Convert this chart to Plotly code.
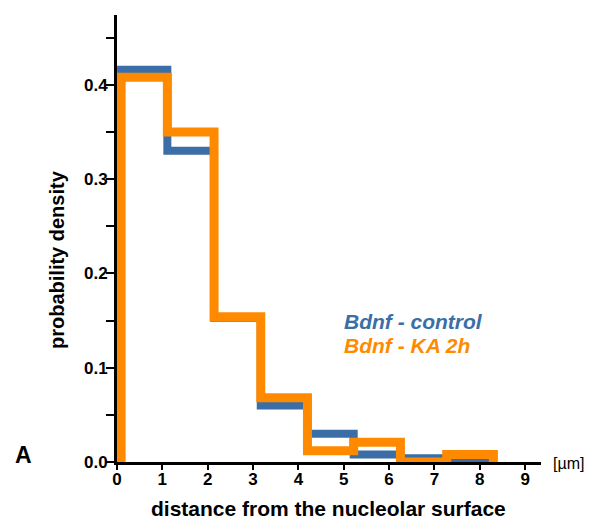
import plotly.graph_objects as go

# Data
bin_edges = [0.09, 1.11, 2.14, 3.17, 4.20, 5.22, 6.25, 7.27, 8.30]
control = [0.416, 0.330, 0.153, 0.060, 0.030, 0.008, 0.004, 0.0]
ka_2h = [0.408, 0.350, 0.154, 0.068, 0.012, 0.021, 0.0, 0.008]
x_ticks = [0, 1, 2, 3, 4, 5, 6, 7, 8, 9]
y_ticks = [0.0, 0.1, 0.2, 0.3, 0.4]

BLUE = "#3b6ea6"
ORANGE = "#ff8a00"

W, H = 597, 520
ML, MR, MT, MB = 117, 56, 15, 58


def step_xy(edges, vals):
    return [edges[0]] + list(edges), [0] + list(vals) + [0]


fig = go.Figure()
for vals, col, w in [(control, BLUE, 8), (ka_2h, ORANGE, 9)]:
    sx, sy = step_xy(bin_edges, vals)
    fig.add_trace(go.Scatter(x=sx, y=sy, mode="lines", line_shape="hv",
                             line=dict(color=col, width=w), showlegend=False,
                             hoverinfo="skip"))

font_b = dict(family="Liberation Sans, Arial", color="black")

fig.update_layout(
    width=W, height=H,
    margin=dict(l=ML, r=MR, t=MT, b=MB, autoexpand=False),
    paper_bgcolor="white", plot_bgcolor="white",
    xaxis=dict(range=[0, 9.35], showgrid=False, zeroline=False,
               showline=True, linecolor="black", linewidth=3,
               ticks="outside", ticklen=5, tickwidth=2, tickcolor="black",
               tickvals=x_ticks, ticktext=[f"<b>{v}</b>" for v in x_ticks],
               tickfont=dict(size=17, **font_b), ticklabelstandoff=-5),
    yaxis=dict(range=[0, 0.474], showgrid=False, zeroline=False,
               showline=True, linecolor="black", linewidth=3,
               ticks="outside", ticklen=8, tickwidth=2, tickcolor="black",
               tickvals=y_ticks, ticktext=[f"<b>{v:.1f}</b>" for v in y_ticks],
               tickfont=dict(size=17, **font_b), ticklabelstandoff=-5,
               minor=dict(tickvals=[0.05, 0.15, 0.25, 0.35, 0.45], ticks="outside",
                          ticklen=8, tickwidth=2, tickcolor="black")),
)


def px(x):
    return (x - ML) / (W - ML - MR)


def py(y):
    return (H - MB - y) / (H - MT - MB)


annotations = [
    dict(text="<b><i>Bdnf - control</i></b>", x=342, y=322, color=BLUE, size=21, anchor="left"),
    dict(text="<b><i>Bdnf - KA 2h</i></b>", x=342, y=345, color=ORANGE, size=21, anchor="left"),
    dict(text="[µm]", x=551, y=463, color="black", size=16, anchor="left"),
    dict(text="<b>A</b>", x=23, y=455, color="black", size=23, anchor="center"),
    dict(text="<b>distance from the nucleolar surface</b>", x=328, y=508, color="black", size=21, anchor="center"),
]
for a in annotations:
    fig.add_annotation(
        text=a["text"], xref="paper", yref="paper", x=px(a["x"]), y=py(a["y"]),
        xanchor=a["anchor"], yanchor="middle", showarrow=False,
        font=dict(family="Liberation Sans, Arial", size=a["size"], color=a["color"]))

fig.add_annotation(text="<b>probability density</b>", xref="paper", yref="paper",
                   x=px(57), y=py(260), xanchor="center", yanchor="middle",
                   textangle=-90, showarrow=False,
                   font=dict(family="Liberation Sans, Arial", size=20, color="black"))

fig.write_html("out.html", config={"displayModeBar": False},
               post_script="document.body.style.margin='0';")
